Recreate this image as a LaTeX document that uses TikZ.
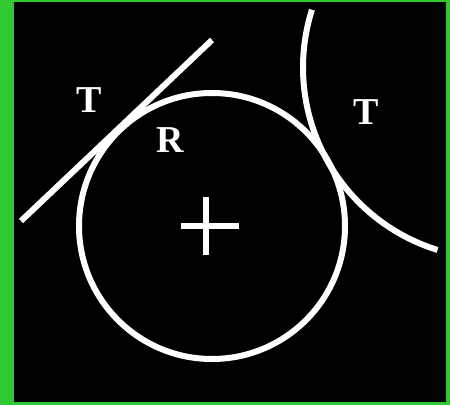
\documentclass[tikz,border=0pt]{standalone}
\usepackage{fontspec}
\setmainfont{Liberation Serif}
\usepackage{tikz}
\usetikzlibrary{positioning, calc}
\definecolor{mygreen}{RGB}{50,200,50}
\definecolor{myblack}{RGB}{0,0,0}
\tikzset{
  curve/.style={draw=white, line width=6pt},
  lbl/.style={text=white, inner sep=0pt, font=\fontsize{38}{38}\selectfont\bfseries}
}
\begin{document}
\begin{tikzpicture}[x=1pt, y=1pt]
  % Frame
  \fill[mygreen] (0,0) rectangle (450,405);
  \fill[myblack] (14,3) rectangle (446,403);
  \useasboundingbox (0,0) rectangle (450,405);

  % Centres
  \coordinate (ctr) at (212,179);
  \coordinate (bigctr) at (494,337.5);

  % Circle and its cross
  \draw[curve] (ctr) circle[radius=133];
  \draw[curve] (206,150) -- (206,208);
  \draw[curve] (181,179) -- (239,179);

  % Tangent line
  \coordinate (ta) at (21,184);
  \coordinate (tb) at (212,365);
  \draw[curve] (ta) -- (tb);

  % Tangent arc
  \draw[curve] ($(bigctr)+(162.4:191)$) arc[start angle=162.4, end angle=252.8, radius=191];

  % Labels
  \node[lbl] (tleft) at (89,305) {T};
  \node[lbl] (rlbl) at (170,265) {R};
  \node[lbl] (tright) at (366,293) {T};
\end{tikzpicture}
\end{document}
